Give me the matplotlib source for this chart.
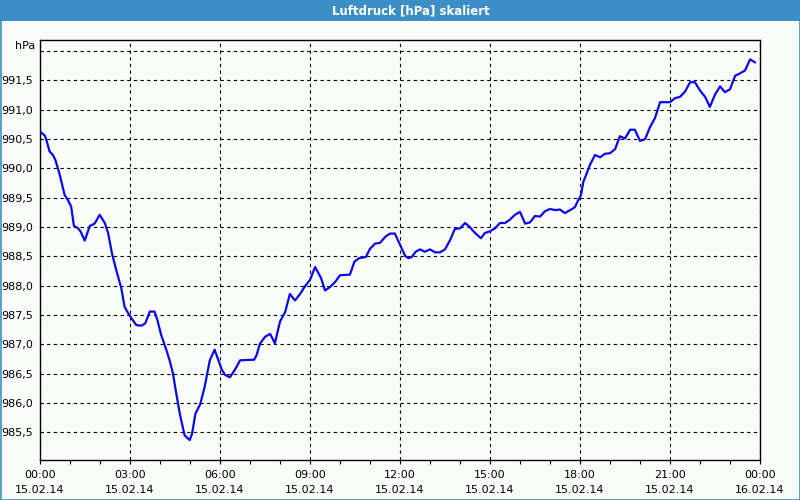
import matplotlib
matplotlib.use("Agg")
import matplotlib.pyplot as plt
from matplotlib.patches import Rectangle
from matplotlib.ticker import MultipleLocator, FixedLocator

# hours since 15.02.14 00:00
hours = [0.0, 0.16, 0.21, 0.32, 0.43, 0.51, 0.66, 0.82, 0.93, 1.04, 1.13, 1.27,
         1.36, 1.49, 1.66, 1.82, 1.99, 2.16, 2.27, 2.40, 2.54, 2.71, 2.82, 2.93,
         3.07, 3.21, 3.38, 3.51, 3.66, 3.82, 3.91, 4.04, 4.21, 4.32, 4.43, 4.54,
         4.66, 4.82, 4.99, 5.07, 5.18, 5.34, 5.49, 5.66, 5.82, 5.94, 6.06, 6.17,
         6.33, 6.50, 6.67, 7.14, 7.22, 7.33, 7.50, 7.67, 7.83, 8.00, 8.17, 8.33,
         8.50, 8.67, 8.83, 9.00, 9.17, 9.37, 9.50, 9.67, 9.83, 10.00, 10.33, 10.48,
         10.63, 10.86, 11.00, 11.17, 11.33, 11.52, 11.67, 11.83, 12.00, 12.17, 12.28, 12.39,
         12.52, 12.67, 12.83, 13.00, 13.17, 13.33, 13.50, 13.67, 13.83, 14.00, 14.17, 14.33,
         14.50, 14.70, 14.83, 15.00, 15.17, 15.33, 15.50, 15.67, 15.83, 16.00, 16.17, 16.33,
         16.50, 16.67, 16.83, 17.00, 17.17, 17.33, 17.50, 17.67, 17.83, 17.94, 18.03, 18.11,
         18.22, 18.33, 18.50, 18.67, 18.83, 19.00, 19.17, 19.33, 19.50, 19.67, 19.83, 20.00,
         20.17, 20.33, 20.50, 20.67, 21.00, 21.17, 21.33, 21.50, 21.67, 21.83, 22.00, 22.17,
         22.33, 22.50, 22.67, 22.83, 23.00, 23.17, 23.33, 23.50, 23.67, 23.83]

pressure = [990.63, 990.56, 990.49, 990.29, 990.23, 990.15, 989.89, 989.55, 989.46, 989.35, 989.02, 988.98,
            988.92, 988.77, 989.02, 989.06, 989.21, 989.07, 988.90, 988.55, 988.27, 987.96, 987.64, 987.54,
            987.43, 987.33, 987.32, 987.36, 987.56, 987.56, 987.42, 987.16, 986.91, 986.73, 986.51, 986.17,
            985.82, 985.45, 985.37, 985.48, 985.82, 985.98, 986.28, 986.73, 986.91, 986.74, 986.57, 986.48,
            986.44, 986.57, 986.73, 986.74, 986.82, 987.01, 987.13, 987.18, 987.02, 987.39, 987.55, 987.86,
            987.75, 987.86, 987.99, 988.10, 988.32, 988.13, 987.92, 987.98, 988.06, 988.18, 988.19, 988.41,
            988.47, 988.49, 988.63, 988.72, 988.73, 988.84, 988.89, 988.89, 988.70, 988.51, 988.47, 988.49,
            988.58, 988.62, 988.58, 988.62, 988.57, 988.57, 988.62, 988.78, 988.97, 988.98, 989.07, 989.00,
            988.90, 988.81, 988.90, 988.93, 988.98, 989.07, 989.07, 989.13, 989.21, 989.26, 989.06, 989.08,
            989.19, 989.18, 989.27, 989.31, 989.29, 989.30, 989.24, 989.29, 989.34, 989.46, 989.54, 989.77,
            989.91, 990.06, 990.23, 990.19, 990.25, 990.26, 990.33, 990.55, 990.51, 990.66, 990.66, 990.47,
            990.50, 990.70, 990.86, 991.13, 991.13, 991.20, 991.22, 991.31, 991.47, 991.47, 991.33, 991.22,
            991.05, 991.26, 991.40, 991.30, 991.35, 991.58, 991.62, 991.67, 991.86, 991.81]

x_tick_hours = [0, 3, 6, 9, 12, 15, 18, 21, 24]
x_tick_labels = ["00:00\n15.02.14", "03:00\n15.02.14", "06:00\n15.02.14",
                 "09:00\n15.02.14", "12:00\n15.02.14", "15:00\n15.02.14",
                 "18:00\n15.02.14", "21:00\n15.02.14", "00:00\n16.02.14"]
y_ticks = [985.5, 986.0, 986.5, 987.0, 987.5, 988.0, 988.5, 989.0, 989.5,
           990.0, 990.5, 991.0, 991.5, 992.0]

title = "Luftdruck [hPa] skaliert"
unit = "hPa"

bg = "#fafcfa"
bar_blue = "#3b8fc6"

fig = plt.figure(figsize=(8, 5), dpi=100, facecolor=bg)

# window frame + title bar
fig.patches.append(Rectangle((0, 1 - 21 / 500), 1, 21 / 500, transform=fig.transFigure,
                             facecolor=bar_blue, edgecolor="none", zorder=0))
fig.patches.append(Rectangle((0.5 / 800, 0.5 / 500), 1 - 1 / 800, 1 - 1 / 500,
                             transform=fig.transFigure, facecolor="none",
                             edgecolor=bar_blue, linewidth=1.2, zorder=5))
fig.text(411 / 800, 1 - 10.5 / 500, title, color="white", fontsize=8.5,
         fontweight="bold", ha="center", va="center")

ax = fig.add_axes([40 / 800, 40 / 500, 720 / 800, 420 / 500])
ax.set_facecolor(bg)

ax.plot(hours, pressure, color="#0a0ae6", linewidth=1.6, zorder=3)

ax.set_xlim(0, 24)
ax.set_ylim(985.03, 992.19)

ax.xaxis.set_major_locator(FixedLocator(x_tick_hours))
ax.xaxis.set_minor_locator(MultipleLocator(1))
ax.set_xticklabels(x_tick_labels, fontsize=8, linespacing=1.6)

# top tick label is replaced by the unit
ax.set_yticks(y_ticks)
ax.set_yticklabels([f"{v:.1f}".replace(".", ",") if v < 992 else "" for v in y_ticks],
                   fontsize=8)
fig.text(35 / 800, 1 - 46 / 500, unit, fontsize=8, ha="right", va="center")

ax.tick_params(axis="y", length=0, pad=5)
ax.tick_params(axis="x", which="both", direction="out", length=3, width=0.8,
               pad=4, color="black")

ax.grid(True, which="major", color="black", linestyle=(0, (3, 3)), linewidth=0.8)

for s in ax.spines.values():
    s.set_color("black")
    s.set_linewidth(1.0)

fig.savefig("out.png", dpi=100, facecolor=bg)
